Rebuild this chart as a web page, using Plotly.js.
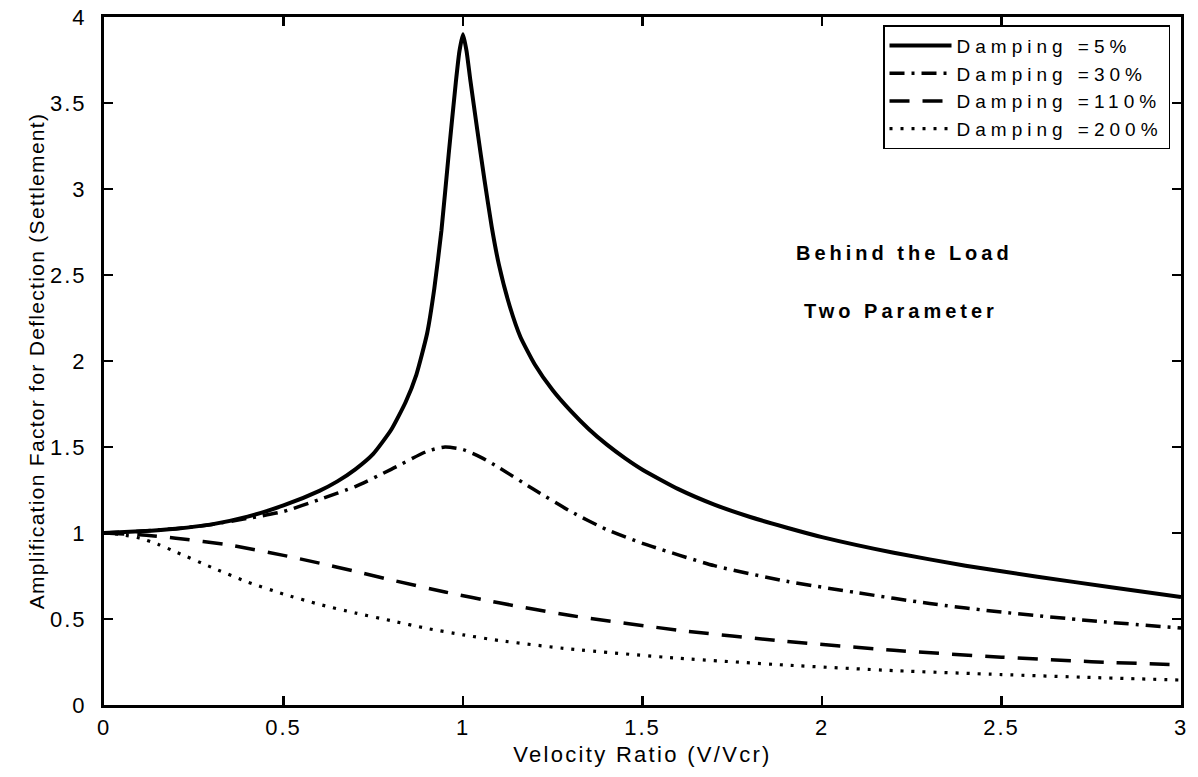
<!DOCTYPE html>
<html>
<head>
<meta charset="utf-8">
<script src="https://cdn.plot.ly/plotly-3.0.1.min.js"></script>
<style>
html,body{margin:0;padding:0;background:#fff;}
#chart{width:1198px;height:777px;}
.xtick text, .ytick text { letter-spacing: 2px; }
.xtitle { letter-spacing: 2.3px; }
.ytitle { letter-spacing: 1.3px; }
.legendtext { letter-spacing: 5px; }
.annotation-text { letter-spacing: 4px; }
</style>
</head>
<body>
<div id="chart"></div>
<script>
// Damping = 5%
const x5 = [0, 0.1, 0.2, 0.3, 0.4, 0.5, 0.6, 0.65, 0.7, 0.75, 0.8, 0.84, 0.87, 0.9, 0.92, 0.94, 0.96, 0.98, 0.99, 1.0, 1.01, 1.02, 1.04, 1.06, 1.08, 1.1, 1.13, 1.16, 1.2, 1.25, 1.3, 1.35, 1.4, 1.45, 1.5, 1.6, 1.7, 1.8, 1.9, 2.0, 2.2, 2.4, 2.6, 2.8, 3.0];
const y5 = [1.0, 1.01, 1.025, 1.05, 1.095, 1.16, 1.245, 1.3, 1.37, 1.46, 1.6, 1.76, 1.92, 2.16, 2.42, 2.76, 3.2, 3.62, 3.8, 3.9, 3.8, 3.64, 3.34, 3.05, 2.78, 2.56, 2.32, 2.14, 1.98, 1.83, 1.71, 1.605, 1.515, 1.437, 1.368, 1.255, 1.165, 1.093, 1.032, 0.976, 0.885, 0.81, 0.746, 0.686, 0.628];
// Damping = 30%
const x30 = [0, 0.1, 0.2, 0.3, 0.4, 0.5, 0.6, 0.7, 0.8, 0.9, 0.95, 1.0, 1.05, 1.1, 1.2, 1.3, 1.4, 1.5, 1.7, 1.9, 2.1, 2.3, 2.5, 2.75, 3.0];
const y30 = [1.0, 1.01, 1.025, 1.05, 1.085, 1.125, 1.195, 1.27, 1.37, 1.475, 1.50, 1.485, 1.44, 1.38, 1.25, 1.125, 1.02, 0.94, 0.81, 0.72, 0.652, 0.59, 0.54, 0.49, 0.447];
// Damping = 110%
const x110 = [0, 0.1, 0.2, 0.35, 0.5, 0.6, 0.7, 0.8, 0.95, 1.1, 1.3, 1.6, 1.9, 2.2, 2.5, 2.75, 3.0];
const y110 = [1.0, 0.99, 0.97, 0.93, 0.87, 0.825, 0.777, 0.727, 0.657, 0.594, 0.52, 0.435, 0.37, 0.318, 0.278, 0.252, 0.233];
// Damping = 200%
const x200 = [0, 0.05, 0.1, 0.15, 0.2, 0.3, 0.4, 0.5, 0.6, 0.7, 0.8, 0.9, 1.0, 1.1, 1.3, 1.6, 1.9, 2.2, 2.5, 2.75, 3.0];
const y200 = [1.0, 0.99, 0.97, 0.935, 0.89, 0.8, 0.715, 0.645, 0.585, 0.535, 0.49, 0.445, 0.408, 0.375, 0.325, 0.272, 0.232, 0.2, 0.177, 0.16, 0.145];

const names = ["Damping =5%", "Damping =30%", "Damping =110%", "Damping =200%"];
const xTicks = [0, 0.5, 1, 1.5, 2, 2.5, 3];
const xTickText = ["0", "0.5", "1", "1.5", "2", "2.5", "3"];
const yTicks = [0, 0.5, 1, 1.5, 2, 2.5, 3, 3.5, 4];
const yTickText = ["0", "0.5", "1", "1.5", "2", "2.5", "3", "3.5", "4"];
const notes = ["<b>Behind the Load</b>", "<b>Two Parameter</b>"];

const FONT = "Liberation Sans, Arial, Helvetica, sans-serif";

const traces = [
  {x: x5, y: y5, name: names[0], mode: "lines", line: {color: "#000", width: 4, dash: "solid", shape: "spline", smoothing: 0.5}},
  {x: x30, y: y30, name: names[1], mode: "lines", line: {color: "#000", width: 3.5, dash: "15px,7px,3px,7px", shape: "spline", smoothing: 0.6}},
  {x: x110, y: y110, name: names[2], mode: "lines", line: {color: "#000", width: 3.5, dash: "20px,13px", shape: "spline", smoothing: 0.6}},
  {x: x200, y: y200, name: names[3], mode: "lines", line: {color: "#000", width: 3.2, dash: "3px,8px", shape: "spline", smoothing: 0.6}}
];

const axisCommon = {
  showgrid: false, zeroline: false, showline: true, linecolor: "#000", linewidth: 3,
  mirror: "ticks", ticks: "inside", ticklen: 9, tickwidth: 2.5, tickcolor: "#000",
  tickfont: {family: FONT, size: 22, color: "#000"}
};

const layout = {
  width: 1198, height: 777,
  margin: {l: 104, r: 17, t: 17, b: 72},
  paper_bgcolor: "#fff", plot_bgcolor: "#fff",
  font: {family: FONT, color: "#000"},
  showlegend: true,
  legend: {
    x: 0.9898, xanchor: "right", y: 0.988, yanchor: "top",
    bgcolor: "#fff", bordercolor: "#000", borderwidth: 1.5,
    font: {family: FONT, size: 19, color: "#000"},
    tracegroupgap: 0, itemwidth: 62
  },
  xaxis: Object.assign({}, axisCommon, {
    range: [0, 3], tickvals: xTicks, ticktext: xTickText, ticklabelstandoff: 1,
    title: {text: "Velocity Ratio (V/Vcr)", font: {family: FONT, size: 22, color: "#000"}, standoff: 8}
  }),
  yaxis: Object.assign({}, axisCommon, {
    range: [0, 4], tickvals: yTicks, ticktext: yTickText, ticklabelstandoff: 10,
    title: {text: "Amplification Factor for Deflection (Settlement)", font: {family: FONT, size: 21, color: "#000"}, standoff: 0}
  }),
  annotations: [
    {x: 2.23, y: 2.63, xref: "x", yref: "y", text: notes[0], showarrow: false,
     font: {family: FONT, size: 20, color: "#000"}},
    {x: 2.22, y: 2.29, xref: "x", yref: "y", text: notes[1], showarrow: false,
     font: {family: FONT, size: 20, color: "#000"}}
  ]
};

Plotly.newPlot("chart", traces, layout, {displayModeBar: false, staticPlot: true});
</script>
</body>
</html>
